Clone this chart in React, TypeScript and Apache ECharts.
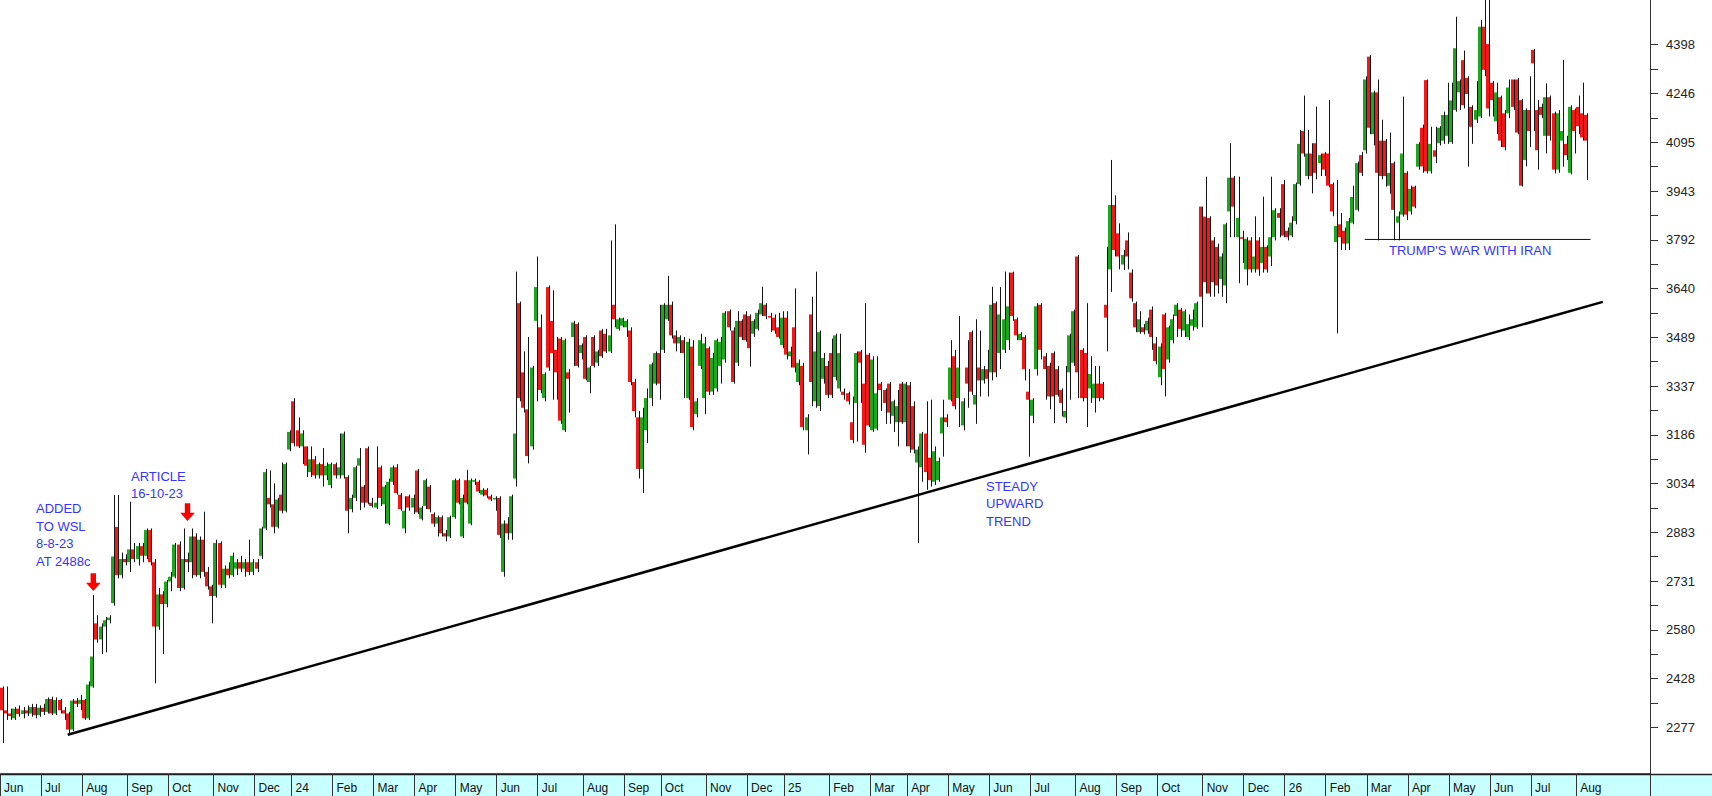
import React, { useEffect, useRef } from "react";
import * as echarts from "echarts";

// ---------- DATA (OHLC = [open, high, low, close]) ----------
const monthLabels = [
  "Jun", "Jul", "Aug", "Sep", "Oct", "Nov", "Dec",
  "24", "Feb", "Mar", "Apr", "May", "Jun", "Jul", "Aug", "Sep", "Oct", "Nov", "Dec",
  "25", "Feb", "Mar", "Apr", "May", "Jun", "Jul", "Aug", "Sep", "Oct", "Nov", "Dec",
  "26", "Feb", "Mar", "Apr", "May", "Jun", "Jul", "Aug",
];

const jun23 = [[2400,2404,2228,2330],[2330,2404,2300,2320],[2320,2335,2300,2312],[2305,2340,2300,2335],[2335,2345,2310,2318],[2318,2340,2305,2330],[2330,2345,2312,2320],[2320,2350,2310,2340],[2340,2350,2305,2315],[2315,2345,2310,2338]];
const jul23 = [[2338,2350,2315,2325],[2325,2370,2320,2365],[2365,2372,2315,2320],[2320,2370,2315,2362],[2362,2365,2320,2330],[2330,2340,2300,2320],[2320,2325,2254,2270],[2270,2365,2265,2360],[2360,2368,2340,2350],[2350,2378,2330,2362]];
const aug23 = [[2362,2365,2300,2305],[2305,2420,2300,2410],[2404,2688,2400,2497],[2600,2625,2540,2550],[2550,2600,2505,2590],[2590,2620,2510,2610],[2610,2625,2600,2618],[2663,2999,2655,2808],[2900,2999,2740,2750],[2750,2820,2740,2800],[2800,2815,2780,2790]];
const sep23 = [[2790,2978,2760,2830],[2830,2850,2790,2800],[2800,2850,2780,2840],[2840,2850,2790,2810],[2810,2895,2800,2890],[2890,2895,2780,2790],[2790,2800,2414,2590],[2590,2710,2580,2690],[2690,2700,2505,2660],[2660,2735,2650,2730]];
const oct23 = [[2730,2760,2700,2745],[2745,2850,2740,2845],[2845,2855,2700,2710],[2710,2895,2705,2800],[2800,2820,2760,2790],[2790,2895,2740,2870],[2870,2880,2745,2750],[2750,2870,2740,2860],[2860,2947,2745,2760],[2760,2775,2705,2715],[2715,2720,2600,2685]];
const nov23 = [[2685,2860,2680,2850],[2850,2855,2710,2720],[2720,2780,2710,2770],[2770,2790,2740,2750],[2750,2820,2745,2810],[2770,2800,2750,2790],[2790,2810,2760,2770],[2770,2800,2745,2790],[2790,2860,2750,2760],[2760,2800,2750,2790]];
const dec23 = [[2790,2800,2760,2770],[2810,2900,2800,2895],[2895,3080,2890,3070],[2990,3075,2960,2970],[2970,3035,2880,2900],[2900,2990,2895,2985],[3000,3100,2942,2950],[2950,3100,2945,3095],[3140,3200,3135,3195]];
const jan24 = [[3290,3300,3150,3160],[3200,3240,3145,3150],[3150,3200,3095,3190],[3150,3150,3055,3090],[3070,3150,3055,3110],[3110,3120,3050,3060],[3060,3100,3050,3095],[3095,3145,3025,3060],[3060,3100,3045,3090],[3030,3100,3020,3095]];
const feb24 = [[3095,3100,3050,3060],[3060,3190,3050,3085],[3060,3196,3050,3190],[3055,3060,2880,2950],[2955,3000,2945,2990],[2990,3090,2980,3085],[3090,3145,2952,3113],[3025,3030,2960,2975],[3144,3150,2970,2975],[2975,2990,2960,2965]];
const mar24 = [[2960,3150,2955,2975],[3085,3090,2965,2990],[2970,3030,2910,3025],[2910,3050,2905,3040],[3040,3090,3030,3085],[3085,3095,3000,3005],[3000,3005,2950,2955],[2895,2995,2880,2950],[2995,3000,2950,2960],[2960,3000,2940,2990]];
const apr24 = [[3075,3080,2940,2945],[2925,2965,2920,2960],[2965,3050,2955,3045],[3025,3030,2945,2955],[2940,2945,2900,2910],[2910,2935,2870,2930],[2930,2935,2870,2880],[2880,2890,2855,2870],[2870,2935,2865,2930],[2930,3050,2925,3045]];
const may24 = [[3045,3050,2970,2975],[2870,3000,2865,2990],[3045,3077,2970,2975],[2910,3050,2905,3045],[3040,3050,3030,3045],[3040,3045,3005,3010],[3000,3020,2995,3015],[3015,3020,2990,2998],[2995,3000,2980,2985],[2985,2995,2950,2990]];
const jun24 = [[2990,2995,2865,2875],[2760,2920,2745,2910],[2910,2930,2860,2880],[2880,3000,2860,2995],[3050,3693,3025,3190],[3595,3600,3290,3300],[3380,3445,3255,3270],[3265,3490,3097,3120],[3150,3400,3140,3395],[3540,3740,3290,3645]];
const jul24 = [[3520,3560,3315,3325],[3300,3380,3290,3375],[3645,3650,3385,3395],[3540,3635,3295,3440],[3450,3490,3295,3380],[3485,3490,3220,3230],[3200,3485,3195,3480],[3380,3390,3255,3360],[3490,3540,3400,3535],[3530,3535,3395,3400],[3440,3470,3420,3465]];
const aug24 = [[3490,3495,3355,3360],[3350,3400,3315,3395],[3490,3495,3395,3400],[3410,3450,3400,3445],[3510,3515,3425,3430],[3500,3515,3440,3445],[3445,3790,3440,3495],[3590,3840,3520,3545],[3515,3550,3510,3545],[3525,3550,3520,3548]];
const sep24 = [[3520,3545,3490,3540],[3510,3520,3340,3350],[3350,3360,3240,3260],[3240,3260,3050,3080],[3080,3270,3005,3240],[3200,3330,3160,3300],[3300,3410,3275,3405],[3345,3445,3340,3440],[3440,3590,3295,3345]];
const oct24 = [[3450,3595,3440,3590],[3545,3680,3540,3590],[3590,3600,3485,3495],[3495,3510,3445,3470],[3470,3495,3440,3490],[3480,3490,3300,3440],[3300,3485,3295,3475],[3460,3480,3200,3210],[3250,3300,3240,3290],[3400,3500,3390,3480],[3300,3490,3250,3470]];
const nov24 = [[3455,3460,3310,3320],[3320,3440,3310,3425],[3330,3485,3320,3480],[3400,3490,3345,3475],[3420,3570,3410,3565],[3570,3575,3510,3520],[3510,3520,3345,3350],[3410,3570,3400,3540],[3540,3545,3480,3490],[3560,3570,3475,3480]];
const dec24 = [[3555,3560,3398,3455],[3500,3545,3490,3540],[3515,3575,3510,3565],[3560,3646,3555,3595],[3590,3595,3545,3555],[3555,3565,3505,3550],[3550,3560,3500,3510],[3520,3565,3485,3490],[3465,3570,3455,3550]];
const jan25 = [[3550,3570,3420,3435],[3430,3460,3395,3445],[3520,3641,3380,3395],[3350,3420,3340,3410],[3400,3410,3200,3210],[3200,3250,3125,3240],[3560,3615,3275,3350],[3290,3693,3270,3445],[3275,3510,3260,3505],[3360,3440,3345,3425],[3400,3415,3300,3310]];
const feb25 = [[3440,3485,3300,3310],[3365,3500,3355,3495],[3330,3500,3320,3440],[3320,3330,3295,3310],[3315,3320,3280,3290],[3225,3305,3160,3170],[3285,3445,3165,3440],[3445,3450,3285,3410],[3345,3595,3130,3155],[3435,3440,3210,3215]];
const mar25 = [[3200,3430,3195,3420],[3205,3430,3200,3315],[3345,3350,3260,3325],[3325,3330,3220,3285],[3345,3350,3220,3255],[3245,3295,3195,3290],[3225,3325,3150,3275],[3345,3350,3220,3225],[3225,3350,3150,3345]];
const apr25 = [[3340,3350,3130,3150],[3275,3290,3128,3140],[3100,3150,2850,3140],[3085,3195,3040,3190],[3190,3290,3015,3070],[3115,3295,3025,3045],[3040,3150,3030,3135],[3045,3115,3040,3105],[3190,3295,3118,3240],[3240,3250,3210,3225]];
const may25 = [[3295,3480,3290,3395],[3430,3450,3265,3275],[3300,3555,3210,3395],[3215,3300,3200,3290],[3395,3480,3270,3345],[3505,3510,3310,3320],[3280,3545,3220,3310],[3395,3510,3305,3355],[3355,3400,3345,3390],[3390,3450,3305,3360]];
const jun25 = [[3380,3646,3355,3590],[3595,3600,3365,3380],[3440,3645,3390,3560],[3450,3693,3440,3545],[3480,3690,3450,3585],[3690,3693,3540,3555],[3545,3550,3480,3495],[3480,3505,3480,3500],[3490,3495,3355,3390],[3320,3390,3118,3295]];
const jul25 = [[3245,3300,3222,3295],[3390,3595,3370,3585],[3590,3595,3420,3450],[3430,3440,3295,3390],[3400,3410,3265,3305],[3440,3445,3222,3305],[3390,3400,3305,3310],[3325,3330,3243,3285],[3240,3400,3222,3260],[3380,3500,3295,3495],[3410,3575,3400,3570]];
const aug25 = [[3740,3745,3300,3380],[3450,3455,3290,3300],[3440,3595,3210,3300],[3330,3430,3285,3375],[3300,3400,3255,3345],[3345,3400,3290,3300],[3345,3350,3295,3300],[3590,3770,3445,3550],[3700,4040,3630,3900],[3900,3930,3740,3760]];
const sep25 = [[3812,3843,3700,3740],[3715,3760,3698,3745],[3790,3815,3700,3740],[3690,3700,3600,3610],[3595,3600,3505,3520],[3505,3570,3500,3545],[3520,3530,3498,3505],[3510,3550,3500,3540],[3575,3585,3450,3490],[3470,3490,3405,3415]];
const oct25 = [[3365,3470,3340,3460],[3560,3565,3305,3390],[3420,3525,3410,3520],[3480,3560,3470,3545],[3555,3595,3490,3590],[3575,3580,3490,3515],[3510,3575,3490,3570],[3490,3560,3480,3530],[3525,3575,3510,3545],[3520,3600,3515,3595],[3895,3895,3520,3615]];
const nov25 = [[3864,3988,3625,3660],[3860,3865,3615,3625],[3790,3800,3615,3660],[3770,3780,3625,3650],[3670,3750,3615,3740],[3650,3845,3595,3840],[3880,4092,3800,3985],[3985,3990,3800,3895],[3800,3988,3657,3860],[3800,3820,3720,3795]];
const dec25 = [[3700,3800,3650,3795],[3790,3800,3690,3700],[3700,3865,3690,3740],[3790,3800,3680,3700],[3720,3926,3690,3770],[3770,3775,3690,3700],[3740,3988,3710,3800],[3800,3890,3790,3884],[3875,3890,3800,3860],[3965,3978,3800,3805]];
const jan26 = [[3820,3830,3790,3800],[3805,3865,3800,3845],[3850,3970,3840,3965],[3965,4133,3960,4090],[4130,4240,4050,4060],[3990,4133,3980,4060],[4060,4092,3936,3990],[4092,4206,3980,4000],[4030,4060,3990,4055],[4060,4065,3990,4010]];
const feb26 = [[4060,4226,3955,3960],[3965,3970,3865,3880],[3785,3978,3501,3835],[3840,3875,3760,3800],[3820,3830,3760,3780],[3780,3860,3760,3850],[3845,3960,3840,3925],[3885,4035,3880,4030],[4055,4065,3990,4000],[4070,4300,4060,4290]];
const mar26 = [[4361,4366,4120,4140],[4120,4255,4085,4250],[4250,4290,3790,4000],[4100,4165,3980,3990],[4100,4105,3957,3990],[3960,4125,3935,4000],[4030,4035,3790,3885],[3845,3880,3790,3865],[3870,4237,3864,4060],[4000,4005,3853,3870]];
const apr26 = [[3880,3960,3870,3950],[3957,3960,3890,3895],[4019,4095,4010,4090],[4140,4150,4000,4020],[4288,4290,3998,4005],[4005,4143,3998,4090],[4070,4143,4030,4050],[4092,4145,4085,4140],[4100,4190,4090,4180],[4115,4280,4090,4180]];
const may26 = [[4095,4280,4090,4225],[4195,4485,4190,4387],[4250,4290,4195,4285],[4350,4380,4200,4210],[4295,4300,4019,4245],[4205,4210,4090,4143],[4165,4285,4155,4195],[4175,4475,4170,4454],[4454,4537,4300,4320],[4400,4537,4175,4200]];
const jun26 = [[4280,4285,4175,4226],[4160,4280,4120,4250],[4235,4240,4080,4100],[4185,4195,4070,4080],[4185,4290,4170,4265],[4290,4290,4195,4205],[4290,4295,4120,4125],[4226,4230,3957,3960],[4040,4200,4020,4195],[4195,4300,4080,4130]];
const jul26 = [[4382,4385,4130,4340],[4195,4226,4010,4070],[4205,4215,4170,4180],[4115,4278,4060,4235],[4235,4240,4100,4115],[4185,4190,3998,4010],[4010,4195,4000,4185],[4100,4351,4019,4130],[4090,4115,4040,4055],[4000,4210,3995,4205],[4195,4200,4060,4130]];
const aug26 = [[4205,4240,4120,4145],[4185,4280,4100,4110],[4180,4185,3978,4100]];

const monthCandles = [
  jun23, jul23, aug23, sep23, oct23, nov23, dec23,
  jan24, feb24, mar24, apr24, may24, jun24, jul24, aug24, sep24, oct24, nov24, dec24,
  jan25, feb25, mar25, apr25, may25, jun25, jul25, aug25, sep25, oct25, nov25, dec25,
  jan26, feb26, mar26, apr26, may26, jun26, jul26, aug26,
];
const emptySlotsAfterData = 15;

const yLabelValues = [2277, 2428.5, 2580, 2731.5, 2883, 3034.5, 3186, 3337.5, 3489, 3640.5, 3792, 3943.5, 4095, 4246.5, 4398];
const yMinorTickValues = [2352.75, 2504.25, 2655.75, 2807.25, 2958.75, 3110.25, 3261.75, 3413.25, 3564.75, 3716.25, 3867.75, 4019.25, 4170.75, 4322.25];
const yMin = 2132;
const yMax = 4537;

const trendLine = [[16, 2254], [390, 3599]];
const iranLine = [[332, 3793], [387, 3793]];

const GREEN = "#1ca81c";
const RED = "#f01818";
const BLUE = "#3535ff";
const FONT = '"Liberation Sans", Arial, sans-serif';

// ---------- BUILD ----------
const slotLabels: string[] = [];
const monthStart = new Set<number>();
const candles: number[][] = [];
monthCandles.forEach((arr, m) => {
  monthStart.add(slotLabels.length);
  arr.forEach((c, j) => {
    const idx = slotLabels.length;
    slotLabels.push(j === 0 ? monthLabels[m] : "");
    candles.push([idx, c[0], c[3], c[2], c[1]]); // idx, open, close, low, high
  });
});
for (let i = 0; i < emptySlotsAfterData; i++) slotLabels.push("");
const categories = slotLabels.map((_, i) => String(i));

function arrow(cx: number, top: number, mid: number, bottom: number) {
  return {
    type: "polygon",
    shape: {
      points: [
        [cx - 2.7, top], [cx + 2.7, top], [cx + 2.7, mid], [cx + 7.3, mid],
        [cx, bottom], [cx - 7.3, mid], [cx - 2.7, mid],
      ],
    },
    style: { fill: "#ff0000" },
    z: 20,
  };
}

function label(text: string, x: number, y: number) {
  return {
    type: "text",
    x,
    y,
    z: 20,
    style: {
      text,
      fill: BLUE,
      font: `13px ${FONT}`,
      textAlign: "left",
      align: "left",
      textVerticalAlign: "middle",
      verticalAlign: "middle",
    },
  };
}

export default function App() {
  const ref = useRef<HTMLDivElement>(null);
  useEffect(() => {
    if (!ref.current) return;
    const chart = echarts.init(ref.current, undefined, { renderer: "svg" });
    const option: any = {
      animation: false,
      backgroundColor: "#ffffff",
      grid: { left: 0, right: 62, top: 0, bottom: 22, containLabel: false, outerBoundsMode: "none" },
      xAxis: {
        type: "category",
        data: categories,
        boundaryGap: true,
        z: 10,
        axisLine: { show: true, lineStyle: { color: "#222", width: 1.5 } },
        axisTick: {
          show: true,
          length: 22,
          interval: (idx: number) => monthStart.has(idx),
          lineStyle: { color: "#333", width: 1 },
        },
        axisLabel: {
          show: true,
          interval: (idx: number) => monthStart.has(idx),
          formatter: (_v: string, idx: number) => slotLabels[idx],
          align: "left",
          verticalAlign: "middle",
          margin: 14,
          padding: [0, 0, 0, 2],
          color: "#111",
          fontSize: 12,
          fontFamily: FONT,
        },
        splitLine: { show: false },
      },
      yAxis: {
        type: "value",
        position: "right",
        min: yMin,
        max: yMax,
        z: 10,
        axisLine: { show: true, lineStyle: { color: "#333", width: 1 } },
        axisTick: {
          show: true,
          length: 8,
          customValues: [...yLabelValues, ...yMinorTickValues],
          lineStyle: { color: "#333", width: 1 },
        },
        axisLabel: {
          show: true,
          customValues: yLabelValues,
          formatter: (v: number) => String(Math.floor(v)),
          margin: 16,
          color: "#222",
          fontSize: 13,
          fontFamily: FONT,
        },
        splitLine: { show: false },
      },
      series: [
        {
          type: "custom",
          name: "price",
          data: candles,
          encode: { x: 0, y: [1, 2, 3, 4] },
          clip: true,
          z: 2,
          renderItem: (_params: any, api: any) => {
            const i = api.value(0);
            const o = api.value(1);
            const c = api.value(2);
            const l = api.value(3);
            const h = api.value(4);
            const pH = api.coord([i, h]);
            const pL = api.coord([i, l]);
            const pO = api.coord([i, o]);
            const pC = api.coord([i, c]);
            const xr = Math.round(pH[0]);
            const top = Math.min(pO[1], pC[1]);
            const ht = Math.max(1.5, Math.abs(pO[1] - pC[1]));
            return {
              type: "group",
              children: [
                {
                  type: "line",
                  shape: { x1: xr + 1.5, y1: pH[1], x2: xr + 1.5, y2: pL[1] },
                  style: { stroke: "#151515", lineWidth: 1 },
                },
                {
                  type: "rect",
                  shape: { x: xr - 2, y: top, width: 3, height: ht },
                  style: { fill: c >= o ? GREEN : RED },
                },
              ],
            };
          },
        },
        {
          type: "line",
          name: "trend",
          data: trendLine,
          symbol: "none",
          z: 4,
          lineStyle: { color: "#000", width: 2.5 },
        },
        {
          type: "line",
          name: "iran",
          data: iranLine,
          symbol: "none",
          z: 4,
          lineStyle: { color: "#111", width: 1 },
        },
      ],
      graphic: [
        { type: "rect", shape: { x: 0, y: 774, width: 1712, height: 22 }, style: { fill: "#c8ffff" }, z: -10, silent: true },
        { type: "line", shape: { x1: 0, y1: 774.5, x2: 1712, y2: 774.5 }, style: { stroke: "#222", lineWidth: 1.5 }, z: 5, silent: true },
        label("ADDED", 36, 508.7),
        label("TO WSL", 36, 526.2),
        label("8-8-23", 36, 543.7),
        label("AT 2488c", 36, 561.2),
        label("ARTICLE", 131, 476.2),
        label("16-10-23", 131, 493.8),
        label("STEADY", 986, 486.2),
        label("UPWARD", 986, 503.9),
        label("TREND", 986, 521.6),
        label("TRUMP'S WAR WITH IRAN", 1389, 250.8),
        arrow(93.3, 573.3, 582.7, 591),
        arrow(187.5, 503.3, 512.7, 521),
      ],
    };
    chart.setOption(option);
    return () => chart.dispose();
  }, []);
  return (
    <div
      ref={ref}
      style={{ position: "fixed", left: 0, top: 0, width: 1712, height: 796, background: "#fff" }}
    />
  );
}
